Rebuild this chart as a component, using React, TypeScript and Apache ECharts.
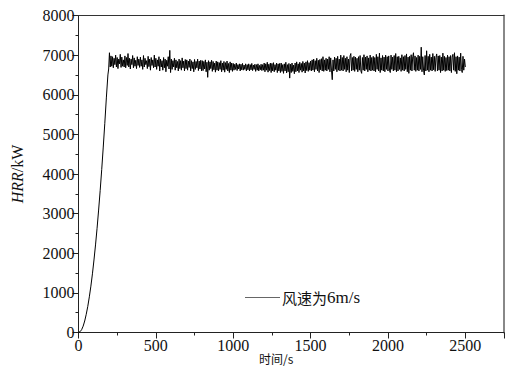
import React, { useEffect, useRef } from "react";
import * as echarts from "echarts";

// Growth phase (time s, HRR kW)
const rampTimes = [0, 10, 20, 30, 40, 50, 60, 70, 80, 90, 100, 110, 120, 130, 140, 150, 160, 170, 180, 190, 195];
const rampValues = [0, 20, 70, 160, 290, 460, 660, 900, 1170, 1480, 1830, 2210, 2630, 3090, 3580, 4110, 4680, 5280, 5920, 6500, 6650];

// Steady phase, sampled every 5 s from 200 s to 2500 s
const steadyStart = 200;
const steadyStep = 5;
const steadyValues = [
  7060, 6700, 6980, 6720, 6960, 6680, 6920, 6760, 7000, 6700, 6940, 6660, 6900, 6780, 7020, 6690, 6950, 6720, 6880, 6700,
  6980, 6680, 6940, 6740, 7040, 6700, 6920, 6650, 6900, 6760, 6990, 6680, 6930, 6720, 6870, 6660, 6960, 6740, 6900, 6690,
  6950, 6720, 6880, 6640, 6990, 6700, 6920, 6760, 6860, 6660, 6970, 6710, 6900, 6620, 6940, 6740, 6880, 6680, 7000, 6700,
  6920, 6640, 6880, 6720, 6960, 6600, 6900, 6700, 6860, 6620, 6940, 6680, 6900, 6580, 6870, 6720, 6960, 6650, 7120, 6560,
  6900, 6640, 6860, 6700, 6920, 6620, 6880, 6680, 6840, 6600, 6900, 6660, 6860, 6620, 6930, 6680, 6850, 6600, 6890, 6660,
  6880, 6620, 6850, 6690, 6900, 6600, 6860, 6660, 6830, 6580, 6890, 6640, 6840, 6680, 6900, 6610, 6850, 6650, 6870, 6600,
  6860, 6610, 6840, 6650, 6880, 6580, 6820, 6440, 6860, 6620, 6830, 6660, 6870, 6590, 6840, 6630, 6800, 6570, 6850, 6620,
  6830, 6600, 6810, 6640, 6860, 6580, 6800, 6620, 6840, 6570, 6810, 6640, 6850, 6600, 6790, 6560, 6830, 6620, 6800, 6590,
  6790, 6620, 6770, 6640, 6800, 6610, 6760, 6650, 6780, 6600, 6770, 6630, 6790, 6620, 6750, 6640, 6780, 6600, 6760, 6630,
  6780, 6600, 6760, 6630, 6790, 6610, 6750, 6640, 6770, 6590, 6760, 6620, 6780, 6600, 6740, 6630, 6770, 6610, 6760, 6620,
  6800, 6580, 6780, 6620, 6820, 6570, 6770, 6610, 6800, 6560, 6790, 6600, 6810, 6580, 6760, 6620, 6800, 6560, 6780, 6600,
  6790, 6560, 6800, 6590, 6760, 6540, 6780, 6600, 6820, 6550, 6760, 6580, 6790, 6420, 6770, 6560, 6800, 6590, 6750, 6530,
  6800, 6580, 6830, 6600, 6780, 6560, 6820, 6620, 6790, 6570, 6840, 6600, 6800, 6550, 6830, 6610, 6860, 6590, 6810, 6620,
  6850, 6600, 6880, 6620, 6900, 6580, 6860, 6640, 6920, 6600, 6870, 6560, 6890, 6630, 6910, 6600, 6960, 6590, 6880, 6620,
  6920, 6600, 6900, 6640, 6960, 6580, 6930, 6620, 6380, 6880, 6600, 6950, 6640, 6920, 6580, 6970, 6620, 6900, 6600, 7000,
  6620, 6940, 6600, 6990, 6640, 6920, 6580, 6960, 6620, 6900, 6560, 6980, 7040, 6600, 6940, 6620, 6970, 6590, 6950, 6640,
  6920, 6580, 6960, 6620, 6990, 6600, 6540, 6940, 6620, 7010, 6600, 6950, 6640, 6980, 6580, 6930, 6620, 7000, 6600, 6940,
  6620, 6970, 6600, 6940, 6580, 7020, 6640, 6960, 6600, 7050, 6560, 6930, 6620, 6990, 6600, 6950, 6580, 7000, 6640, 6960,
  6600, 6980, 6620, 6560, 7000, 6640, 6950, 6600, 6990, 6620, 7040, 6580, 6960, 6600, 6970, 6640, 6930, 6590, 7010, 6620,
  6960, 6600, 6990, 6640, 7030, 6580, 6950, 6540, 6970, 6620, 7010, 6600, 6960, 7060, 6620, 6980, 6590, 6940, 6620, 7000,
  6600, 6970, 6640, 7200, 6580, 6960, 6620, 6500, 6990, 6600, 7110, 6620, 6970, 6580, 7020, 6620, 6950, 6600, 7040, 6630,
  6970, 6590, 6940, 7030, 6600, 6980, 6620, 6990, 6560, 6950, 6600, 7050, 6620, 6970, 6590, 6940, 6610, 7000, 6620, 6960,
  6600, 6990, 6560, 6950, 7020, 6620, 7060, 6590, 6960, 6530, 6980, 6620, 6950, 6600, 7050, 6640, 6560, 6970, 6620, 6900,
  6700,
];

const seriesName = "风速为6m/s";
const xTicks = { min: 0, max: 2750, interval: 500 };
const yTicks = { min: 0, max: 8000, interval: 1000 };

const SERIF = "'Times New Roman', 'Liberation Serif', 'DejaVu Serif', serif";
const CJK = "'Noto Sans CJK SC', sans-serif";

export default function App() {
  const ref = useRef<HTMLDivElement>(null);
  useEffect(() => {
    if (!ref.current) return;
    const chart = echarts.init(ref.current, null, { renderer: "svg" });
    const data: [number, number][] = [];
    rampTimes.forEach((t, i) => data.push([t, rampValues[i]]));
    steadyValues.forEach((v, i) => data.push([steadyStart + i * steadyStep, v]));

    const axisColor = "#222";
    chart.setOption({
      animation: false,
      backgroundColor: "#fff",
      textStyle: { fontFamily: SERIF },
      grid: { left: 78.5, right: 14, top: 15.5, bottom: 45.5 },
      legend: {
        left: 240,
        top: 284,
        data: [{ name: seriesName, icon: "rect" }],
        itemWidth: 35,
        itemHeight: 1,
        itemStyle: { color: "#666" },
        textStyle: {
          color: "#111",
          padding: [0, 0, 0, -3],
          rich: {
            c: { fontFamily: CJK, fontSize: 15, color: "#111" },
            s: { fontFamily: SERIF, fontSize: 17, color: "#111" },
          },
        },
        formatter: () => "{c|风速为}{s|6m/s}",
      },
      xAxis: [
        {
          type: "value",
          min: xTicks.min,
          max: xTicks.max,
          interval: xTicks.interval,
          name: "时间/s",
          nameLocation: "middle",
          nameGap: 20,
          nameMoveOverlap: false,
          nameTextStyle: { fontFamily: CJK, fontSize: 12, color: "#111", padding: [0, 30, 0, 0] },
          axisLine: { show: true, onZero: false, lineStyle: { color: axisColor, width: 1 } },
          axisTick: { show: true, inside: false, length: 6, lineStyle: { color: axisColor } },
          minorTick: { show: true, splitNumber: 2, length: 3, lineStyle: { color: axisColor } },
          splitLine: { show: false },
          axisLabel: {
            fontFamily: SERIF,
            fontSize: 16,
            color: "#111",
            margin: 5,
            formatter: (v: number) => (v > 2500 ? "" : String(v)),
          },
        },
        {
          type: "value",
          position: "top",
          min: xTicks.min,
          max: xTicks.max,
          axisLine: { show: true, onZero: false, lineStyle: { color: "#333", width: 1 } },
          axisTick: { show: false },
          axisLabel: { show: false },
          splitLine: { show: false },
        },
      ],
      yAxis: [
        {
          type: "value",
          min: yTicks.min,
          max: yTicks.max,
          interval: yTicks.interval,
          name: "{i|HRR}{n|/kW}",
          nameLocation: "middle",
          nameGap: 53,
          nameRotate: 90,
          nameMoveOverlap: false,
          nameTextStyle: {
            rich: {
              i: { fontFamily: SERIF, fontSize: 16, fontStyle: "italic", color: "#111" },
              n: { fontFamily: SERIF, fontSize: 16, color: "#111" },
            },
          },
          axisLine: { show: true, onZero: false, lineStyle: { color: axisColor, width: 1 } },
          axisTick: { show: true, inside: false, length: 6, lineStyle: { color: axisColor } },
          minorTick: { show: true, splitNumber: 2, length: 3, lineStyle: { color: axisColor } },
          splitLine: { show: false },
          axisLabel: {
            fontFamily: SERIF,
            fontSize: 16,
            color: "#111",
            margin: 4,
            formatter: (v: number) => String(v),
          },
        },
        {
          type: "value",
          position: "right",
          min: yTicks.min,
          max: yTicks.max,
          axisLine: { show: true, onZero: false, lineStyle: { color: "#888", width: 2 } },
          axisTick: { show: false },
          axisLabel: { show: false },
          splitLine: { show: false },
        },
      ],
      series: [
        {
          name: seriesName,
          type: "line",
          data,
          showSymbol: false,
          symbol: "none",
          lineStyle: { color: "#000", width: 1 },
          itemStyle: { color: "#000" },
        },
      ],
    });
    return () => chart.dispose();
  }, []);
  return <div ref={ref} style={{ width: 518, height: 378, position: "absolute", left: 0, top: 0 }} />;
}
